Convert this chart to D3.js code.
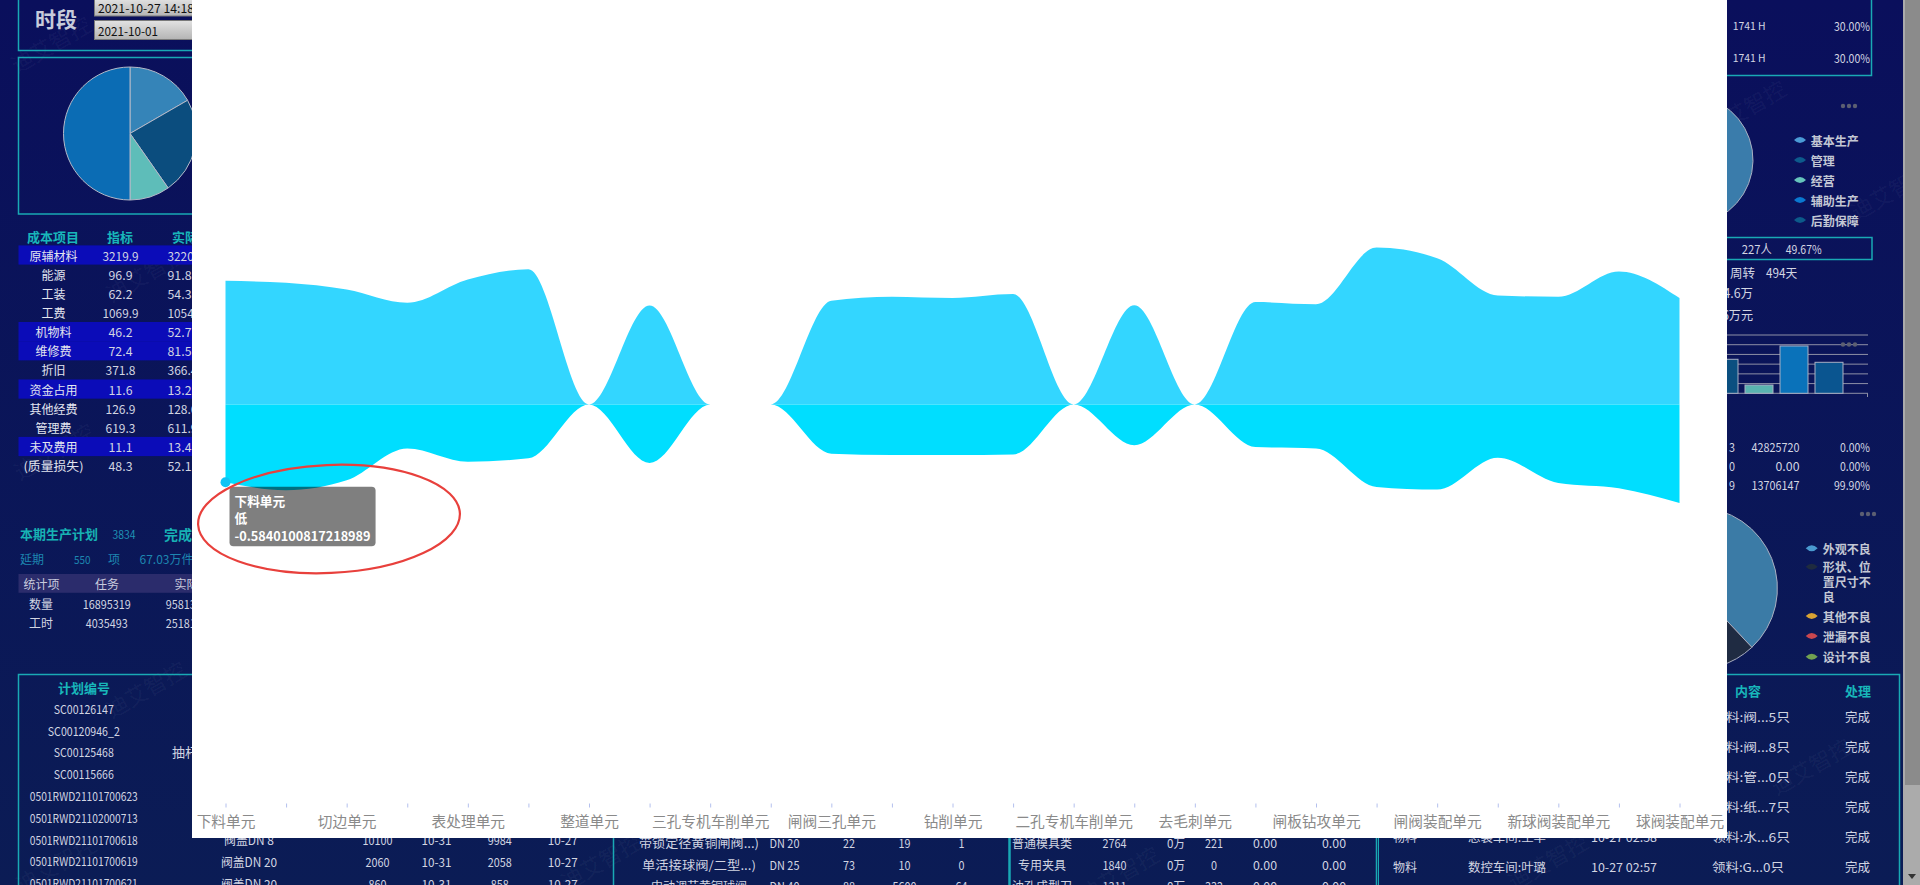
<!DOCTYPE html>
<html><head><meta charset="utf-8">
<script src="https://cdn.jsdelivr.net/npm/d3@7"></script>
<style>
html,body{margin:0;padding:0;overflow:hidden;background:#0a1257;}
svg{display:block;}
</style></head><body>
<svg id="c" width="1920" height="885"></svg>
<script>
// ================= DATA =================
// 25 work units on the category axis; only every second label is shown (odd ones hidden by the label interval)
const categories = ["下料单元","冲压单元","切边单元","焊接单元","表处理单元","打磨单元","整道单元","铣削单元",
  "三孔专机车削单元","二孔单元","闸阀三孔单元","车削单元","钻削单元","攻丝单元","二孔专机车削单元","镗孔单元",
  "去毛刺单元","清洗单元","闸板钻攻单元","阀体装配单元","闸阀装配单元","试压单元","新球阀装配单元","包装单元","球阀装配单元"];
const seriesNames = ["高","低"];
const highValues = [0.93,0.915,0.865,0.765,0.94,1.017,0,0.745,0,0,0.78,0.81,0.80,0.83,0,0.747,0,0.77,0.754,1.18,1.10,0.82,0.81,1.0,0.80];
const lowValues = [-0.5840100817218989,-0.645,-0.57,-0.33,-0.43,-0.405,0,-0.44,0,0,-0.37,-0.38,-0.38,-0.376,0,-0.306,0,-0.32,-0.33,-0.62,-0.64,-0.40,-0.59,-0.63,-0.74];
const yDomain = [-3, 3];
const hoverIndex = 0;

// background dashboard content
const leftPieValues = [60, 85, 35, 180];
const costHeader = ["成本项目","指标","实际"];
const costItems = ["原辅材料","能源","工装","工费","机物料","维修费","折旧","资金占用","其他经费","管理费","未及费用","(质量损失)"];
const costTarget = ["3219.9","96.9","62.2","1069.9","46.2","72.4","371.8","11.6","126.9","619.3","11.1","48.3"];
const costActual = ["3220.6","91.8","54.3","1054.2","52.7","81.5","366.4","13.2","128.6","611.9","13.4","52.1"];
const costHighlight = [0,4,5,7,10];
const statHeader = ["统计项","任务","实际"];
const statRows = [["数量","16895319","9581392"],["工时","4035493","2518176"]];
const planNumbers = ["SC00126147","SC00120946_2","SC00125468","SC00115666","0501RWD21101700623","0501RWD21102000713","0501RWD21101700618","0501RWD21101700619","0501RWD21101700621"];
const planRows = [["阀盖DN 8","10100","10-31","9984","10-27"],["阀盖DN 20","2060","10-31","2058","10-27"],["阀盖DN 20","860","10-31","858","10-27"]];
const productRows = [["带锁定径黄铜闸阀...)","DN 20","22","19","1"],["单活接球阀/二型...)","DN 25","73","10","0"],["中动调节黄铜球阀","DN 40","88","5600","64"]];
const toolRows = [["普通模具类","2764","0万","221","0.00","0.00"],["专用夹具","1840","0万","0","0.00","0.00"],["油孔成型刀","1311","0万","332","0.00","0.00"]];
const eventTypes = ["物料","物料","物料","物料","物料","物料"];
const eventShops = ["铸造车间:李强","机加车间:张伟","总装车间:王华","数控车间:刘洋","总装车间:王华","数控车间:叶璐"];
const eventTimes = ["10-27 03:12","10-27 03:10","10-27 03:05","10-27 03:01","10-27 02:58","10-27 02:57"];
const eventContents = ["领料:阀...5只","领料:阀...8只","领料:管...0只","领料:纸...7只","领料:水...6只","领料:G...0只"];
const eventStatus = ["完成","完成","完成","完成","完成","完成"];
const staffLegend = ["基本生产","管理","经营","辅助生产","后勤保障"];
const staffPieValues = [45, 20, 15, 12, 8];
const staffBarValues = [400, 350, 85, 487, 319];
const defectLegend = ["外观不良","形状、位置尺寸不良","其他不良","泄漏不良","设计不良"];
const defectPieValues = [38, 15, 22, 14, 11];

// ================= DRAW =================
const svg = d3.select("#c");
const CJK = "'Noto Sans CJK SC','Noto Sans',sans-serif";
const teal = "#19a9b4";
const defs = svg.append("defs");
const bg = defs.append("linearGradient").attr("id","bg").attr("x1",0).attr("y1",0).attr("x2",0).attr("y2",1);
bg.append("stop").attr("offset","0%").attr("stop-color","#0a0f5c");
bg.append("stop").attr("offset","100%").attr("stop-color","#0b1c55");
const gIn = defs.append("linearGradient").attr("id","inp").attr("x1",0).attr("y1",0).attr("x2",0).attr("y2",1);
gIn.append("stop").attr("offset","0%").attr("stop-color","#e2e2e2");
gIn.append("stop").attr("offset","100%").attr("stop-color","#b4b4b4");
svg.append("rect").attr("width",1920).attr("height",885).attr("fill","url(#bg)");

function mlen(s,size){let w=0;for(const ch of s){w+= ch.charCodeAt(0)<0x2000? size/2 : size;}return w;}
function T(g,x,y,s,o={}){
  const size=o.size||12;
  const t=g.append("text").attr("x",x).attr("y",y).attr("dominant-baseline","central")
    .attr("font-family",CJK).attr("font-size",size).attr("fill",o.fill||"#d2d5e2")
    .attr("text-anchor",o.anchor||"start").attr("font-weight",o.weight||"normal").text(s);
  if(o.fit!==false){t.attr("textLength",o.len||mlen(s,size)).attr("lengthAdjust","spacingAndGlyphs");}
  return t;
}
const bgG = svg.append("g");

// watermarks
[[50,43],[145,272],[53,450],[145,688],[55,863],[1745,107],[1890,190],[1810,765],[1547,860],[1118,873],[600,860]].forEach(p=>{
  bgG.append("text").attr("transform",`translate(${p[0]},${p[1]}) rotate(-30)`).attr("text-anchor","middle")
    .attr("dominant-baseline","central").attr("font-family",CJK).attr("font-size",22)
    .attr("fill","rgba(255,255,255,0.05)").text("迪艾智控");
});

// ---- left column ----
bgG.append("path").attr("d","M18.5,0V50.5H260").attr("fill","none").attr("stroke",teal).attr("stroke-width",1.5);
T(bgG,35,17.5,"时段",{size:21,weight:"bold",fill:"#c6cbdb"});
bgG.append("rect").attr("x",94.5).attr("y",-1).attr("width",130).attr("height",17).attr("fill","url(#inp)").attr("stroke","#7a7a7a");
bgG.append("rect").attr("x",94.5).attr("y",20.5).attr("width",130).attr("height",19).attr("fill","url(#inp)").attr("stroke","#7a7a7a");
T(bgG,98,7.5,"2021-10-27 14:18",{size:12,fill:"#111"});
T(bgG,98,30.5,"2021-10-01",{size:12,fill:"#111"});
bgG.append("rect").attr("x",18.5).attr("y",57.5).attr("width",260).attr("height",156.5).attr("fill","none").attr("stroke",teal).attr("stroke-width",1.5);
const lp = d3.pie().sort(null)(leftPieValues);
const lpColors = ["#3584b8","#0b4d7e","#5ebdb9","#0b6cb4"];
bgG.append("g").attr("transform","translate(130,133.5)").selectAll("path").data(lp).join("path")
  .attr("d",d3.arc().innerRadius(0).outerRadius(66.5)).attr("fill",(d,i)=>lpColors[i]).attr("stroke","#b4b9c8").attr("stroke-width",1);

// cost table
T(bgG,53,236,costHeader[0],{size:13,weight:"bold",fill:"#18b6ba",anchor:"middle"});
T(bgG,120,236,costHeader[1],{size:13,weight:"bold",fill:"#18b6ba",anchor:"middle"});
T(bgG,172,236,costHeader[2],{size:13,weight:"bold",fill:"#18b6ba"});
costItems.forEach((name,i)=>{
  const cy = 255 + i*19.15;
  if(costHighlight.includes(i)) bgG.append("rect").attr("x",18.5).attr("y",cy-9.6).attr("width",240).attr("height",19.2).attr("fill","#0b0cb8");
  T(bgG,53.5,cy,name,{anchor:"middle",fill:"#e2e5ef"});
  T(bgG,120.5,cy,costTarget[i],{anchor:"middle"});
  T(bgG,167.5,cy,costActual[i]);
});
T(bgG,20,533.5,"本期生产计划",{size:13,weight:"bold",fill:"#17b2b4"});
T(bgG,112.5,533.5,"3834",{size:11.5,fill:"#1f92b4"});
T(bgG,164,533.5,"完成",{size:14,weight:"bold",fill:"#17b2b4"});
T(bgG,20,558.5,"延期",{fill:"#1d86b0"});
T(bgG,74,558.5,"550",{size:11,fill:"#1d86b0"});
T(bgG,108,558.5,"项",{fill:"#1d86b0"});
T(bgG,139.5,558.5,"67.03万件",{fill:"#1d86b0"});
bgG.append("rect").attr("x",18.5).attr("y",574).attr("width",240).attr("height",18.8).attr("fill","#2b2c6c");
T(bgG,41.5,583.4,statHeader[0],{anchor:"middle",fill:"#c9cbdd"});
T(bgG,107,583.4,statHeader[1],{anchor:"middle",fill:"#c9cbdd"});
T(bgG,174.5,583.4,statHeader[2],{fill:"#c9cbdd"});
statRows.forEach((r,i)=>{
  const cy = 603.3 + i*19;
  T(bgG,41,cy,r[0],{anchor:"middle"});
  T(bgG,106.7,cy,r[1],{anchor:"middle"});
  T(bgG,165.7,cy,r[2]);
});

// bottom panels
bgG.append("rect").attr("x",18.5).attr("y",674.5).attr("width",595).attr("height",240).attr("fill","none").attr("stroke",teal).attr("stroke-width",1.5);
bgG.append("line").attr("x1",1009.5).attr("x2",1009.5).attr("y1",674).attr("y2",885).attr("stroke",teal).attr("stroke-width",2.5);
bgG.append("path").attr("d","M1376.5,885V674.5H1899.5V885").attr("fill","none").attr("stroke",teal).attr("stroke-width",1.5);
bgG.append("line").attr("x1",1378.5).attr("x2",1378.5).attr("y1",674).attr("y2",885).attr("stroke",teal).attr("stroke-width",1);
T(bgG,84,687.5,"计划编号",{size:13,weight:"bold",fill:"#18b6ba",anchor:"middle"});
planNumbers.forEach((s,i)=>{ T(bgG,83.8,708.3+i*21.8,s,{anchor:"middle"}); });
T(bgG,172,751.9,"抽杆阀门组件",{size:13});
planRows.forEach((r,i)=>{
  const cy = 839.6 + i*21.8;
  T(bgG,249,cy,r[0],{anchor:"middle",size:12.5});
  T(bgG,377.6,cy,r[1],{anchor:"middle"});
  T(bgG,436.5,cy,r[2],{anchor:"middle"});
  T(bgG,499.8,cy,r[3],{anchor:"middle"});
  T(bgG,562.7,cy,r[4],{anchor:"middle"});
});
productRows.forEach((r,i)=>{
  const cy = 842.7 + i*21.6;
  T(bgG,699,cy,r[0],{anchor:"middle"});
  T(bgG,784.5,cy,r[1],{anchor:"middle"});
  T(bgG,849,cy,r[2],{anchor:"middle"});
  T(bgG,904.5,cy,r[3],{anchor:"middle"});
  T(bgG,961.5,cy,r[4],{anchor:"middle"});
});
toolRows.forEach((r,i)=>{
  const cy = 842.7 + i*21.6;
  T(bgG,1042,cy,r[0],{anchor:"middle"});
  T(bgG,1114.5,cy,r[1],{anchor:"middle"});
  T(bgG,1176,cy,r[2],{anchor:"middle"});
  T(bgG,1214,cy,r[3],{anchor:"middle"});
  T(bgG,1265,cy,r[4],{anchor:"middle"});
  T(bgG,1334,cy,r[5],{anchor:"middle"});
});
T(bgG,1735,690,"内容",{size:13,weight:"bold",fill:"#18b6ba"});
T(bgG,1845,690,"处理",{size:13,weight:"bold",fill:"#18b6ba"});
eventTypes.forEach((s,i)=>{
  const cy = 716 + i*30;
  T(bgG,1393,cy,s);
  T(bgG,1468,cy,eventShops[i]);
  T(bgG,1591,cy,eventTimes[i]);
  T(bgG,1712,cy,eventContents[i]);
  T(bgG,1845,cy,eventStatus[i],{size:12.5});
});

// ---- right column ----
bgG.append("path").attr("d","M1600,75.5H1871.5V-2").attr("fill","none").attr("stroke",teal).attr("stroke-width",1.5);
[25,57].forEach(cy=>{ T(bgG,1732.7,cy,"1741 H",{size:11}); T(bgG,1870,cy,"30.00%",{anchor:"end"}); });
const dots = (x,y)=>{ [0,6,12].forEach(dx=>bgG.append("circle").attr("cx",x+dx).attr("cy",y).attr("r",2.2).attr("fill","#5c5f72")); };
dots(1843,106);
const sp = d3.pie().sort(null)(staffPieValues);
const staffColors = ["#3a7cab","#0d5a8c","#62bfb9","#0a74c6","#0c5a8a"];
bgG.append("g").attr("transform","translate(1688,160)").selectAll("path").data(sp).join("path")
  .attr("d",d3.arc().innerRadius(0).outerRadius(65)).attr("fill",(d,i)=>staffColors[i]).attr("stroke","#a9aec0").attr("stroke-width",1);
const legendIconColors = ["#4b9bd6","#0d5a8c","#66c4bc","#0a78d0","#0c5a8a"];
const lens = "M-6,0Q0,-6 6,0Q0,6 -6,0Z";
staffLegend.forEach((s,i)=>{
  const cy = 140 + i*20;
  bgG.append("path").attr("d",lens).attr("transform",`translate(1800,${cy})`).attr("fill",legendIconColors[i]);
  T(bgG,1810.7,cy,s,{weight:"bold",fill:"#c3c7d4"});
});
bgG.append("path").attr("d","M1600,237.5H1872V259.5H1600").attr("fill","none").attr("stroke",teal).attr("stroke-width",1.5);
T(bgG,1741.7,248.5,"227人");
T(bgG,1785.7,248.5,"49.67%");
T(bgG,1730,272.7,"周转",{size:12.5});
T(bgG,1766,272.7,"494天",{size:12.5});
T(bgG,1753,292.7,"资金1234.6万",{size:12.5,anchor:"end"});
T(bgG,1753,314.5,"库存3156万元",{size:12.5,anchor:"end"});
// staff bars
const bx = d3.scaleBand().domain(staffLegend).range([1671.5,1846.5]).paddingInner(0.2).paddingOuter(0.1);
const by = d3.scaleLinear().domain([0,600]).range([393.3,335]);
by.ticks(6).forEach(v=>{ bgG.append("line").attr("x1",1600).attr("x2",1868).attr("y1",by(v)).attr("y2",by(v)).attr("stroke","#8e90a6").attr("stroke-width",1); });
bgG.append("line").attr("x1",1867.5).attr("x2",1867.5).attr("y1",393.3).attr("y2",397).attr("stroke","#8e90a6");
const barColors = ["#3a7cab","#0b4f80","#5ab4b0","#0a72ba","#0a5590"];
bgG.selectAll(".sbar").data(staffBarValues).join("rect").attr("class","sbar")
  .attr("x",(d,i)=>bx(staffLegend[i])).attr("width",bx.bandwidth()).attr("y",d=>by(d)).attr("height",d=>by(0)-by(d))
  .attr("fill",(d,i)=>barColors[i]).attr("stroke","#aab0c4").attr("stroke-width",1);
dots(1843,344.5);
T(bgG,1735,446,"3",{anchor:"end"}); T(bgG,1799.5,446,"42825720",{anchor:"end"}); T(bgG,1870,446,"0.00%",{anchor:"end"});
T(bgG,1735,465,"0",{anchor:"end"}); T(bgG,1799.5,465,"0.00",{anchor:"end"}); T(bgG,1870,465,"0.00%",{anchor:"end"});
T(bgG,1735,484,"9",{anchor:"end"}); T(bgG,1799.5,484,"13706147",{anchor:"end"}); T(bgG,1870,484,"99.90%",{anchor:"end"});
dots(1862,514);
const dp = d3.pie().sort(null)(defectPieValues);
const defectColors = ["#3b7ba6","#1f2b42","#d9a233","#c9474f","#71a151"];
bgG.append("g").attr("transform","translate(1696.4,588.3)").selectAll("path").data(dp).join("path")
  .attr("d",d3.arc().innerRadius(0).outerRadius(81)).attr("fill",(d,i)=>defectColors[i]).attr("stroke","#a9aec0").attr("stroke-width",1);
const defectIcon = ["#4a9ad0","#1f2b3f","#d9a233","#c9474f","#71a151"];
const defY = [548.3,566.7,616,636,656.7];
defectLegend.forEach((s,i)=>{
  bgG.append("path").attr("d",lens).attr("transform",`translate(1811.7,${defY[i]})`).attr("fill",defectIcon[i]);
  if(i===1){
    T(bgG,1822.7,566.7,"形状、位",{weight:"bold",fill:"#c3c7d4"});
    T(bgG,1822.7,581.7,"置尺寸不",{weight:"bold",fill:"#c3c7d4"});
    T(bgG,1822.7,596.7,"良",{weight:"bold",fill:"#c3c7d4"});
  } else T(bgG,1822.7,defY[i],s,{weight:"bold",fill:"#c3c7d4"});
});

// scrollbar
svg.append("rect").attr("x",1903).attr("y",0).attr("width",17).attr("height",885).attr("fill","#ababab");
svg.append("rect").attr("x",1905).attr("y",0).attr("width",15).attr("height",785).attr("fill","#8b8b8b");
svg.append("path").attr("d","M1908,874H1916L1912,879Z").attr("fill","#333");

// ---- white chart panel ----
svg.append("rect").attr("x",192).attr("y",0).attr("width",1535).attr("height",838).attr("fill","#ffffff");

const x = d3.scalePoint().domain(categories).range([225.5,1679.5]);
const y = d3.scaleLinear().domain(yDomain).range([803.5,5.5]);
const chart = svg.append("g");
const areaGen = d3.area().x((d,i)=>x(categories[i])).y0(y(0)).y1(d=>y(d)).curve(d3.curveMonotoneX);
chart.append("path").datum(highValues).attr("d",areaGen).attr("fill","#00ccff").attr("fill-opacity",0.8);
chart.append("path").datum(lowValues).attr("d",areaGen).attr("fill","#00deff");

const xAxis = d3.axisBottom(x).tickSize(4).tickPadding(9).tickFormat((d,i)=> i%2===0 ? d : "");
const gx = chart.append("g").attr("transform",`translate(0,${y(yDomain[0])})`).call(xAxis);
gx.attr("font-family",CJK).attr("font-size",14.7);
gx.select(".domain").remove();
gx.selectAll(".tick line").attr("stroke","#b4c0ee");
gx.selectAll(".tick text").attr("fill","#8a8a8a");

// hover state: emphasized point + tooltip
const px = x(categories[hoverIndex]), py = y(lowValues[hoverIndex]);
chart.append("circle").attr("cx",px).attr("cy",py).attr("r",5).attr("fill","#10c4f4");
const tip = chart.append("g").attr("transform",`translate(${px+4},${py+4.5})`);
const tipRect = tip.append("rect").attr("rx",4).attr("fill","rgba(0,0,0,0.5)");
const tipLines = [categories[hoverIndex], seriesNames[1], String(lowValues[hoverIndex])];
let tw = 0;
tipLines.forEach((s,i)=>{
  const t = tip.append("text").attr("x",5).attr("y",19.5+i*17.3).attr("font-family",CJK).attr("font-size",12.7)
    .attr("font-weight","bold").attr("fill","#ffffff").text(s);
  tw = Math.max(tw, t.node().getComputedTextLength());
});
tipRect.attr("width",tw+10).attr("height",59.5);

// annotation ellipse
chart.append("ellipse").attr("cx",329).attr("cy",519).attr("rx",131).attr("ry",54)
  .attr("transform","rotate(-2.5,329,519)").attr("fill","none").attr("stroke","#e8403c").attr("stroke-width",2.2);
</script>
</body></html>
